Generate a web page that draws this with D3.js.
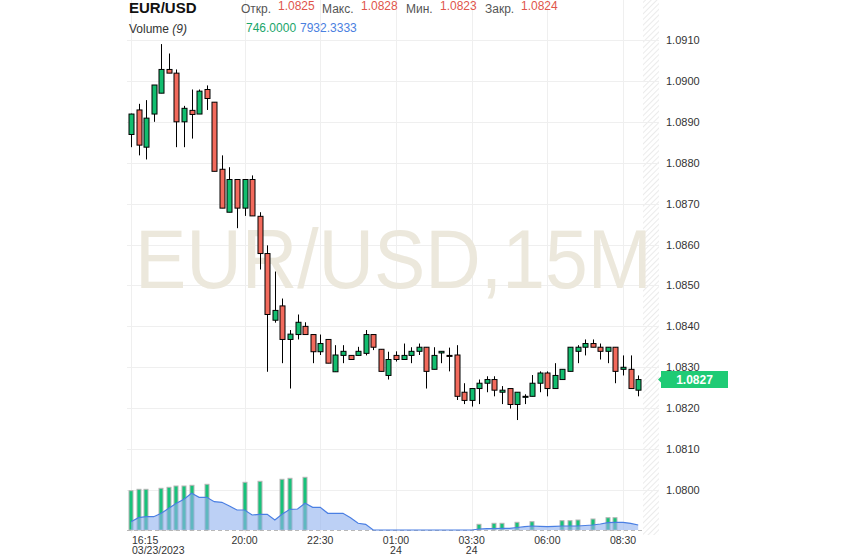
<!DOCTYPE html>
<html>
<head>
<meta charset="utf-8">
<script src="https://cdn.jsdelivr.net/npm/d3@7"></script>
<style>
  body { margin: 0; background: #fff; }
  svg { display: block; font-family: "Liberation Sans", Arial, sans-serif; }
</style>
</head>
<body>
<div id="container"></div>
<script>
// ---------------- data ----------------
var symbol = "EUR/USD";
var interval = "15M";
var startTime = new Date(2023, 2, 23, 16, 15);
var stepMinutes = 15;

var opens = [1.08869,1.08929,1.08838,1.08919,1.08970,1.09028,1.09019,1.08900,1.08928,1.08919,
  1.08979,1.08948,1.08784,1.08679,1.08759,1.08689,1.08759,1.08669,1.08578,1.08415,
  1.08450,1.08368,1.08380,1.08400,1.08380,1.08338,1.08368,1.08289,1.08329,1.08329,
  1.08329,1.08334,1.08380,1.08344,1.08280,1.08329,1.08319,1.08329,1.08339,1.08349,
  1.08295,1.08335,1.08329,1.08330,1.08239,1.08219,1.08248,1.08261,1.08270,1.08239,
  1.08248,1.08209,1.08229,1.08229,1.08261,1.08286,1.08248,1.08270,1.08290,1.08339,
  1.08349,1.08358,1.08349,1.08339,1.08349,1.08295,1.08295,1.08244];
var highs = [1.08920,1.08944,1.08953,1.08990,1.09090,1.09067,1.09028,1.08939,1.08979,1.08979,
  1.08989,1.08948,1.08818,1.08789,1.08759,1.08759,1.08769,1.08679,1.08598,1.08534,
  1.08468,1.08391,1.08429,1.08410,1.08380,1.08380,1.08368,1.08354,1.08354,1.08329,
  1.08350,1.08391,1.08380,1.08344,1.08338,1.08339,1.08358,1.08349,1.08358,1.08349,
  1.08349,1.08339,1.08348,1.08354,1.08261,1.08248,1.08270,1.08278,1.08278,1.08254,
  1.08248,1.08239,1.08234,1.08281,1.08290,1.08290,1.08310,1.08295,1.08349,1.08354,
  1.08368,1.08368,1.08358,1.08349,1.08349,1.08329,1.08329,1.08280];
var lows = [1.08838,1.08818,1.08808,1.08900,1.08970,1.09019,1.08838,1.08838,1.08859,1.08919,
  1.08929,1.08779,1.08689,1.08679,1.08640,1.08670,1.08670,1.08539,1.08289,1.08409,
  1.08310,1.08248,1.08368,1.08380,1.08310,1.08330,1.08310,1.08289,1.08310,1.08319,
  1.08329,1.08329,1.08342,1.08290,1.08270,1.08314,1.08319,1.08310,1.08330,1.08248,
  1.08295,1.08310,1.08290,1.08220,1.08210,1.08204,1.08210,1.08239,1.08229,1.08210,
  1.08199,1.08171,1.08210,1.08229,1.08239,1.08229,1.08248,1.08270,1.08290,1.08310,
  1.08329,1.08349,1.08319,1.08310,1.08261,1.08280,1.08248,1.08229];
var closes = [1.08919,1.08843,1.08909,1.08990,1.09028,1.09019,1.08900,1.08933,1.08918,1.08975,
  1.08957,1.08779,1.08689,1.08759,1.08689,1.08759,1.08670,1.08578,1.08429,1.08439,
  1.08368,1.08381,1.08410,1.08380,1.08338,1.08358,1.08310,1.08330,1.08339,1.08319,
  1.08339,1.08380,1.08349,1.08290,1.08319,1.08319,1.08329,1.08339,1.08349,1.08290,
  1.08329,1.08339,1.08328,1.08229,1.08219,1.08248,1.08261,1.08270,1.08244,1.08244,
  1.08209,1.08239,1.08229,1.08261,1.08286,1.08248,1.08280,1.08295,1.08349,1.08349,
  1.08358,1.08349,1.08339,1.08349,1.08290,1.08300,1.08248,1.08270];

// volume bars (0 = no bar) and the 9 period line
var volumes = [7860,8140,8140,0,8340,8540,8800,8800,8940,0,
  9140,0,0,0,0,9540,0,9740,0,0,
  10140,10340,0,10540,0,0,0,0,0,0,
  0,0,0,0,0,0,0,0,0,0,
  0,0,0,0,0,0,1140,0,1340,1340,
  0,1540,0,1660,0,0,0,1860,1860,2000,
  0,2200,0,2460,2460,0,0,0];
var volumeMA = [1660,2460,2660,2660,3340,4340,5340,6140,7340,6540,
  6540,5660,5540,4800,4000,4000,3000,3140,3140,2000,
  3200,4140,4200,5340,4540,4540,3340,3340,3340,2460,
  1340,1140,0,0,0,0,0,0,0,0,
  0,0,0,0,0,0,200,260,300,320,
  340,500,660,800,720,660,740,800,800,800,
  900,1000,1200,1460,1540,1540,1340,1000];

var priceTicks = [1.0800,1.0810,1.0820,1.0830,1.0840,1.0850,1.0860,1.0870,1.0880,1.0890,1.0900,1.0910];
var timeTickIdx = [0, 15, 25, 35, 45, 55, 65];
var timeTickLabels = ["16:15","20:00","22:30","01:00","03:30","06:00","08:30"];
var dateTickLabels = ["03/23/2023","","","24","24","",""];

var lastPrice = 1.0827;
var headerLabels = ["Откр.","Макс.","Мин.","Закр."];
var headerValues = ["1.0825","1.0828","1.0823","1.0824"];
var volumeLegend = ["746.0000","7932.3333"];

// ---------------- setup ----------------
const width = 843, height = 558;
const green = "#12bd6f", red = "#f26a5c";

const times = opens.map(function(d, i) {
  return new Date(startTime.getTime() + i * stepMinutes * 60000);
});
const candles = opens.map(function(o, i) {
  return {date: times[i], open: o, high: highs[i], low: lows[i], close: closes[i],
          vol: volumes[i], ma: volumeMA[i]};
});

const svg = d3.select("#container").append("svg")
  .attr("width", width).attr("height", height);

const x = d3.scaleTime()
  .domain([times[0], times[times.length - 1]])
  .range([131, 638.2]);
const y = d3.scaleLinear().domain([1.0800, 1.0910]).range([490, 40]);
const vy = d3.scaleLinear().domain([0, 12000]).range([530, 470]);

// hatch pattern for the right strip
const defs = svg.append("defs");
defs.append("pattern")
  .attr("id", "hatch").attr("patternUnits", "userSpaceOnUse")
  .attr("width", 4).attr("height", 4)
  .attr("patternTransform", "rotate(45)")
  .append("line")
  .attr("x1", 0).attr("y1", 0).attr("x2", 0).attr("y2", 4)
  .attr("stroke", "#e4e4e4").attr("stroke-width", 1.5);

// ---------------- grid ----------------
svg.append("rect")
  .attr("x", 643).attr("y", 0).attr("width", 16).attr("height", 535)
  .attr("fill", "url(#hatch)");

svg.append("g").selectAll("line")
  .data(priceTicks).enter().append("line")
  .attr("x1", 127).attr("x2", 659)
  .attr("y1", function(d) { return Math.round(y(d)) + 0.5; })
  .attr("y2", function(d) { return Math.round(y(d)) + 0.5; })
  .attr("stroke", "#efefef");

svg.append("g").selectAll("line")
  .data(timeTickIdx).enter().append("line")
  .attr("x1", function(i) { return Math.round(x(times[i])) + 0.5; })
  .attr("x2", function(i) { return Math.round(x(times[i])) + 0.5; })
  .attr("y1", 0).attr("y2", 533)
  .attr("stroke", "#efefef");

// watermark (squeezed horizontally to fit the plot)
svg.append("text")
  .attr("transform", "translate(135,288) scale(0.915,1)")
  .style("font-size", "84px")
  .attr("fill", "#ece8dc")
  .text(symbol + "," + interval);

// ---------------- volume ----------------
svg.append("line")
  .attr("x1", 127).attr("x2", 643).attr("y1", 530.5).attr("y2", 530.5)
  .attr("stroke", "#b8b8b8").attr("stroke-dasharray", "4,3");

svg.append("g").selectAll("rect")
  .data(candles.filter(function(d) { return d.vol > 0; }))
  .enter().append("rect")
  .attr("x", function(d) { return Math.round(x(d.date)) - 2; })
  .attr("y", function(d) { return vy(d.vol); })
  .attr("width", 4)
  .attr("height", function(d) { return 530 - vy(d.vol); })
  .attr("fill", "#17c27a")
  .attr("stroke", "#b5b5b5").attr("stroke-width", 1);

const area = d3.area()
  .x(function(d) { return x(d.date); })
  .y0(530)
  .y1(function(d) { return vy(d.ma); });
const maLine = d3.line()
  .x(function(d) { return x(d.date); })
  .y(function(d) { return vy(d.ma); });

svg.append("path").datum(candles)
  .attr("d", area).attr("fill", "#8fb0ee").attr("fill-opacity", 0.6);
svg.append("path").datum(candles)
  .attr("d", maLine).attr("fill", "none")
  .attr("stroke", "#4a7fe3").attr("stroke-width", 1.2);

// ---------------- candles ----------------
const cg = svg.append("g").selectAll("g")
  .data(candles).enter().append("g");

cg.append("line")
  .attr("x1", function(d) { return Math.round(x(d.date)) + 0.5; })
  .attr("x2", function(d) { return Math.round(x(d.date)) + 0.5; })
  .attr("y1", function(d) { return y(d.high); })
  .attr("y2", function(d) { return y(d.low); })
  .attr("stroke", "#000");

cg.append("rect")
  .attr("x", function(d) { return Math.round(x(d.date)) - 2; })
  .attr("y", function(d) { return y(Math.max(d.open, d.close)); })
  .attr("width", 5)
  .attr("height", function(d) { return Math.max(1, Math.abs(y(d.open) - y(d.close))); })
  .attr("fill", function(d) { return d.close >= d.open ? green : red; })
  .attr("stroke", "#000").attr("stroke-width", 1);

// ---------------- axes ----------------
const yaxis = d3.axisRight(y)
  .tickValues(priceTicks)
  .tickFormat(d3.format(".4f"))
  .tickSize(0).tickPadding(7);
svg.append("g")
  .attr("transform", "translate(659,0)")
  .call(yaxis)
  .call(function(g) { g.select(".domain").remove(); })
  .selectAll("text")
  .style("font-size", "11px")
  .style("font-family", "'Liberation Sans', Arial, sans-serif")
  .attr("fill", "#333");

const xl = svg.append("g").selectAll("g")
  .data(timeTickIdx).enter().append("g")
  .attr("transform", function(i) { return "translate(" + x(times[i]) + ",0)"; });
xl.append("text")
  .attr("y", 543.5)
  .attr("x", function(i, k) { return k === 0 ? 1 : 0; })
  .attr("text-anchor", function(i, k) { return k === 0 ? "start" : "middle"; })
  .style("font-size", "10.5px").attr("fill", "#333")
  .text(function(i, k) { return timeTickLabels[k]; });
xl.append("text")
  .attr("y", 554)
  .attr("x", function(i, k) { return k === 0 ? 1 : 0; })
  .attr("text-anchor", function(i, k) { return k === 0 ? "start" : "middle"; })
  .style("font-size", "10.5px").attr("fill", "#333")
  .text(function(i, k) { return dateTickLabels[k]; });

// last price tag
const ly = y(lastPrice);
svg.append("path")
  .attr("d", "M658," + ly + " L661," + (ly - 3) + " L661," + (ly - 8.5) +
        " L728," + (ly - 8.5) + " L728," + (ly + 8.5) + " L661," + (ly + 8.5) +
        " L661," + (ly + 3) + " Z")
  .attr("fill", "#1fcb75");
svg.append("text")
  .attr("x", 694.5).attr("y", ly + 4.5)
  .attr("text-anchor", "middle")
  .style("font-size", "12px").style("font-weight", "bold")
  .attr("fill", "#fff")
  .text(d3.format(".4f")(lastPrice));

// ---------------- header ----------------
svg.append("text")
  .attr("x", 129).attr("y", 13)
  .style("font-size", "15px").style("font-weight", "bold")
  .attr("fill", "#111")
  .text(symbol);

const labelX = [241, 322, 406, 485];
const valueX = [278, 361, 440, 521];
headerLabels.forEach(function(t, k) {
  svg.append("text").attr("x", labelX[k]).attr("y", 12.5)
    .style("font-size", "12px").attr("fill", "#555").text(t);
  svg.append("text").attr("x", valueX[k]).attr("y", 9.5)
    .style("font-size", "12px").attr("fill", "#e0554b").text(headerValues[k]);
});

const vt = svg.append("text").attr("x", 129).attr("y", 33)
  .style("font-size", "12px").attr("fill", "#333");
vt.append("tspan").text("Volume ");
vt.append("tspan").style("font-style", "italic").text("(9)");

svg.append("text").attr("x", 246).attr("y", 32)
  .style("font-size", "12px").attr("fill", "#1aa56a").text(volumeLegend[0]);
svg.append("text").attr("x", 300).attr("y", 32)
  .style("font-size", "12px").attr("fill", "#4a80e0").text(volumeLegend[1]);
</script>
</body>
</html>
